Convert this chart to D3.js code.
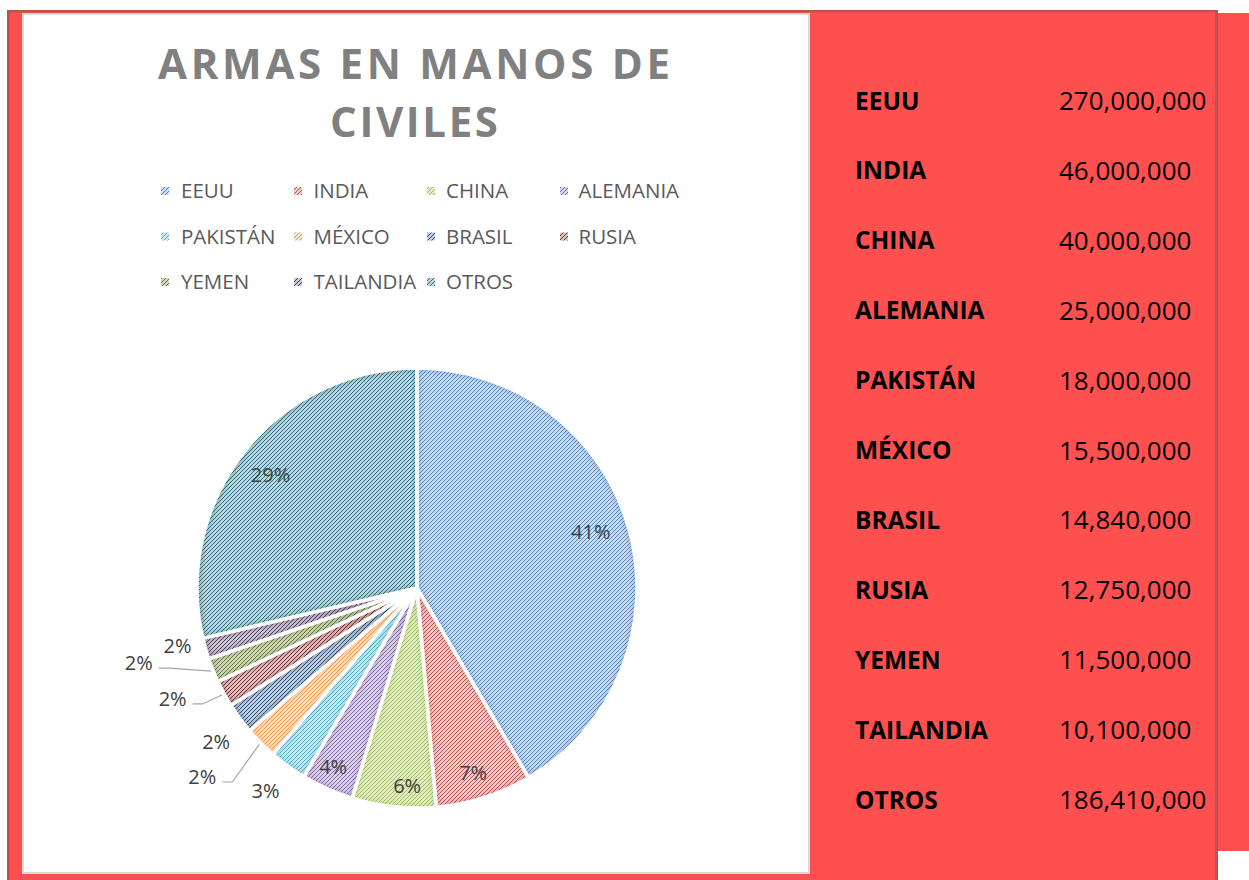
<!DOCTYPE html>
<html>
<head>
<meta charset="utf-8">
<script src="https://cdn.jsdelivr.net/npm/d3@7"></script>
<style>
  html, body { margin: 0; padding: 0; background: #ffffff; }
  svg { display: block; }
</style>
</head>
<body>
<svg id="chart" width="1249" height="880"></svg>
<script>
// ---------------- DATA ----------------
const categories = ["EEUU", "INDIA", "CHINA", "ALEMANIA", "PAKISTÁN", "MÉXICO", "BRASIL", "RUSIA", "YEMEN", "TAILANDIA", "OTROS"];
const values = [270000000, 46000000, 40000000, 25000000, 18000000, 15500000, 14840000, 12750000, 11500000, 10100000, 186410000];
const titleLines = ["ARMAS EN MANOS DE", "CIVILES"];
const seriesColors = ["#4F81BD", "#C0504D", "#9BBB59", "#8064A2", "#4BACC6", "#F79646", "#2C4D75", "#772C2A", "#5F7530", "#4D3B62", "#276A7C"];

// ---------------- LAYOUT ----------------
const W = 1249, H = 880;
const cx = 417, cy = 588, R = 220;
// label placement per slice: [radius factor, angle shift in degrees]
const labelLayout = [[0.83,-2.6],[0.88,0.9],[0.9,-3.2],[0.9,1.0],[1.15,0.8],[1.3,3.4],[1.15,-1.1],[1.22,4.3],[1.31,6.9],[1.12,2.4],[0.84,-0.8]];
const leaderSlices = ["MÉXICO", "RUSIA", "YEMEN"];

const svg = d3.select("#chart");
const defs = svg.append("defs");

// ---------------- FRAME ----------------
svg.append("rect").attr("x", 7).attr("y", 10).attr("width", 1211).attr("height", 875).attr("fill", "#FF5050");
svg.append("rect").attr("x", 1218).attr("y", 13).attr("width", 31).attr("height", 838).attr("fill", "#FF5050");
svg.append("rect").attr("x", 7).attr("y", 10).attr("width", 1211).attr("height", 2.5).attr("fill", "#C0504D");
svg.append("rect").attr("x", 7).attr("y", 10).attr("width", 2.5).attr("height", 870).attr("fill", "#C0504D");
svg.append("rect").attr("x", 1215).attr("y", 10).attr("width", 3).attr("height", 870).attr("fill", "#C0504D");
svg.append("rect").attr("x", 23).attr("y", 14).attr("width", 786).attr("height", 859)
  .attr("fill", "#ffffff").attr("stroke", "#D9D9D9").attr("stroke-width", 2);

// ---------------- PATTERNS ----------------
seriesColors.forEach((c, i) => {
  const p = defs.append("pattern").attr("id", "pat" + i).attr("patternUnits", "userSpaceOnUse")
    .attr("width", 4).attr("height", 4);
  p.append("rect").attr("width", 4).attr("height", 4).attr("fill", d3.interpolateRgb(c, "#ffffff")(0.72));
  [[0,3],[1,2],[2,1],[3,0]].forEach(([x, y]) => {
    p.append("rect").attr("x", x).attr("y", y).attr("width", 1).attr("height", 1).attr("fill", c)
      .attr("shape-rendering", "crispEdges");
  });
});
const blur = defs.append("filter").attr("id", "blur").attr("x", "-20%").attr("y", "-20%").attr("width", "140%").attr("height", "140%");
blur.append("feGaussianBlur").attr("stdDeviation", 2);

// ---------------- TITLE ----------------
const title = svg.append("g").attr("font-family", "'Open Sans', sans-serif").attr("font-weight", "bold")
  .attr("font-size", 42).attr("fill", "#808080");
title.append("text").attr("x", 158).attr("y", 79).attr("textLength", 512).attr("lengthAdjust", "spacing").text(titleLines[0]);
title.append("text").attr("x", 330).attr("y", 137).attr("textLength", 168).attr("lengthAdjust", "spacing").text(titleLines[1]);

// ---------------- LEGEND ----------------
const legend = svg.append("g").attr("font-family", "'Open Sans', sans-serif").attr("font-size", 20.5).attr("fill", "#595959");
categories.forEach((name, i) => {
  const col = i % 4, row = Math.floor(i / 4);
  const yc = 191 + row * 45.5;
  legend.append("rect").attr("x", 161 + col * 133).attr("y", yc - 4).attr("width", 8).attr("height", 8)
    .attr("fill", `url(#pat${i})`);
  legend.append("text").attr("x", 181 + col * 132.5).attr("y", yc + 7).text(name);
});

// ---------------- PIE ----------------
const total = d3.sum(values);
// percentages rounded with largest-remainder so that they sum to 100
const raw = values.map(v => v / total * 100);
const pct = raw.map(Math.floor);
const missing = 100 - d3.sum(pct);
d3.range(raw.length).sort((a, b) => (raw[b] - pct[b]) - (raw[a] - pct[a])).slice(0, missing).forEach(k => pct[k] += 1);

const pie = d3.pie().sort(null).value(d => d.v);
const arcs = pie(categories.map((c, i) => ({ c, v: values[i], i })));
const arc = d3.arc().innerRadius(0).outerRadius(R);
const pg = svg.append("g").attr("transform", `translate(${cx},${cy})`);

arcs.forEach((a, i) => {
  defs.append("clipPath").attr("id", "clip" + i).append("path").attr("d", arc(a));
  pg.append("path").attr("d", arc(a)).attr("fill", `url(#pat${i})`);
  pg.append("path").attr("d", arc(a)).attr("fill", "none").attr("stroke", seriesColors[i])
    .attr("stroke-width", 7).attr("opacity", 0.35).attr("filter", "url(#blur)").attr("clip-path", `url(#clip${i})`);
});
pg.selectAll("path.sep").data(arcs).enter().append("path").attr("class", "sep")
  .attr("d", arc).attr("fill", "none").attr("stroke", "#ffffff").attr("stroke-width", 3.5).attr("stroke-linejoin", "round");

// ---------------- DATA LABELS ----------------
const polar = (ang, rad) => [rad * Math.sin(ang), -rad * Math.cos(ang)];
const lg = pg.append("g").attr("font-family", "'Open Sans', sans-serif").attr("font-size", 20).attr("fill", "#404040");
arcs.forEach((a, i) => {
  const mid = (a.startAngle + a.endAngle) / 2;
  const [rf, shift] = labelLayout[i];
  const [lx, ly] = polar(mid + shift * Math.PI / 180, rf * R);
  if (leaderSlices.includes(categories[i])) {
    const s = [lx + 20, ly + 5];
    const e = [s[0] + 10, s[1]];
    const t = polar(mid, R + 2);
    pg.append("polyline").attr("points", [s, e, t].map(p => p.join(",")).join(" "))
      .attr("fill", "none").attr("stroke", "#A6A6A6").attr("stroke-width", 1.2);
  }
  lg.append("text").attr("x", lx).attr("y", ly).attr("text-anchor", "middle").attr("dy", "0.35em")
    .text(pct[i] + "%");
});

// ---------------- RIGHT TABLE ----------------
const yRow = d3.scalePoint().domain(categories).range([101, 800]);
const fmtNum = d3.format(",");
const tbl = svg.append("g").attr("font-family", "'Open Sans', sans-serif").attr("fill", "#000000");
categories.forEach((name, i) => {
  tbl.append("text").attr("x", 855).attr("y", yRow(name) + 8.5).attr("font-weight", "bold").attr("font-size", 24.5).text(name);
  tbl.append("text").attr("x", 1059).attr("y", yRow(name) + 9).attr("font-size", 26).text(fmtNum(values[i]));
});
</script>
</body>
</html>
